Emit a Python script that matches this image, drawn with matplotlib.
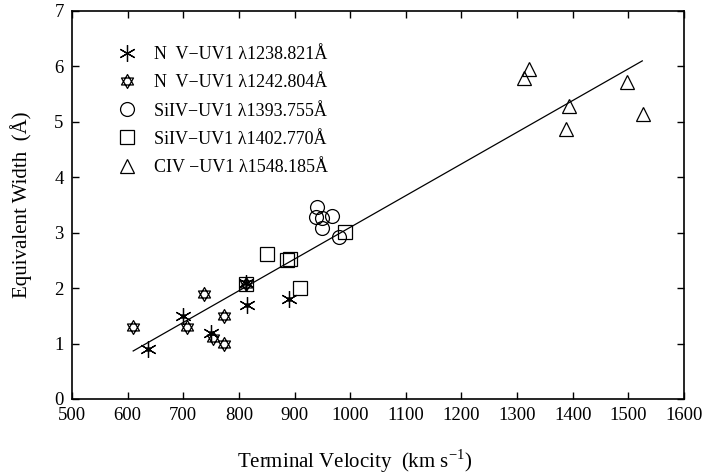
import numpy as np
import matplotlib
matplotlib.use("Agg")
import matplotlib.pyplot as plt
from matplotlib.path import Path

plt.rcParams["font.family"] = ["Liberation Serif", "DejaVu Serif"]
plt.rcParams["mathtext.fontset"] = "custom"
plt.rcParams["mathtext.rm"] = "Liberation Serif"

# ---------------- DATA ---------------- #

nv1_v = [637, 699, 750, 815, 812, 890]
nv1_w = [0.90, 1.50, 1.19, 1.70, 2.09, 1.80]

nv2_v = [610, 706, 737, 773, 754, 773, 812]
nv2_w = [1.30, 1.30, 1.90, 1.50, 1.10, 1.00, 2.08]

si1_v = [940, 939, 950, 968, 949, 980]
si1_w = [3.46, 3.29, 3.27, 3.30, 3.08, 2.93]

si2_v = [850, 886, 891, 910, 990, 812]
si2_w = [2.62, 2.51, 2.53, 2.01, 3.02, 2.08]

civ_v = [1321, 1313, 1498, 1394, 1526, 1388]
civ_w = [5.95, 5.80, 5.72, 5.29, 5.15, 4.87]

fit_slope = 0.00572
fit_intercept = -2.623
fit_range = [610, 1525]

labels = [
    "N  V\u2212UV1 \u03bb1238.821\u00c5",
    "N  V\u2212UV1 \u03bb1242.804\u00c5",
    "SiIV\u2212UV1 \u03bb1393.755\u00c5",
    "SiIV\u2212UV1 \u03bb1402.770\u00c5",
    "CIV \u2212UV1 \u03bb1548.185\u00c5",
]

# ---------------- MARKERS ---------------- #

# star of David: two overlapping triangles
ang_up = np.deg2rad([90, 210, 330])
ang_dn = np.deg2rad([270, 30, 150])
verts = []
codes = []
for a in (ang_up, ang_dn):
    pts = list(zip(np.cos(a), np.sin(a)))
    verts += pts + [pts[0]]
    codes += [Path.MOVETO, Path.LINETO, Path.LINETO, Path.CLOSEPOLY]
hexagram = Path(verts, codes)

# ---------------- PLOT ---------------- #

fig = plt.figure(figsize=(7.03, 4.76), dpi=100)
ax = fig.add_axes([0.1024, 0.1618, 0.8706, 0.8151])

kw = dict(linestyle="none", color="black", markerfacecolor="none",
          markeredgewidth=0.9)

ax.plot(nv1_v, nv1_w, marker=(6, 2, 0), markersize=12, label=labels[0], **kw)
ax.plot(nv1_v, nv1_w, linestyle="none", marker="o", markersize=2.5,
        color="black")
ax.plot(nv2_v, nv2_w, marker=hexagram, markersize=10, label=labels[1], **kw)
ax.plot(si1_v, si1_w, marker="o", markersize=10, label=labels[2], **kw)
ax.plot(si2_v, si2_w, marker="s", markersize=10, label=labels[3], **kw)
ax.plot(civ_v, civ_w, marker="^", markersize=10, label=labels[4], **kw)

fx = np.array(fit_range)
ax.plot(fx, fit_intercept + fit_slope * fx, color="black", linewidth=0.9)

ax.set_xlim(500, 1600)
ax.set_ylim(0, 7)
ax.set_xticks(np.arange(500, 1601, 100))
ax.set_yticks(np.arange(0, 8, 1))
ax.tick_params(direction="in", top=True, right=True, length=5,
               width=1.0, labelsize=13.5, pad=6)
for s in ax.spines.values():
    s.set_linewidth(1.2)

ax.set_xlabel("Terminal Velocity  (km s$^{-1}$)", fontsize=15)
ax.xaxis.set_label_coords(0.4625, -0.125)
ax.set_ylabel("Equivalent Width  (\u00c5)", fontsize=15, labelpad=16)

handles, labs = ax.get_legend_handles_labels()
ax.legend(handles, labs, loc="upper left", bbox_to_anchor=(0.048, 0.928),
          frameon=False, fontsize=13, handletextpad=0.5,
          labelspacing=0.62, borderaxespad=0)

fig.savefig("out.png", dpi=100)
